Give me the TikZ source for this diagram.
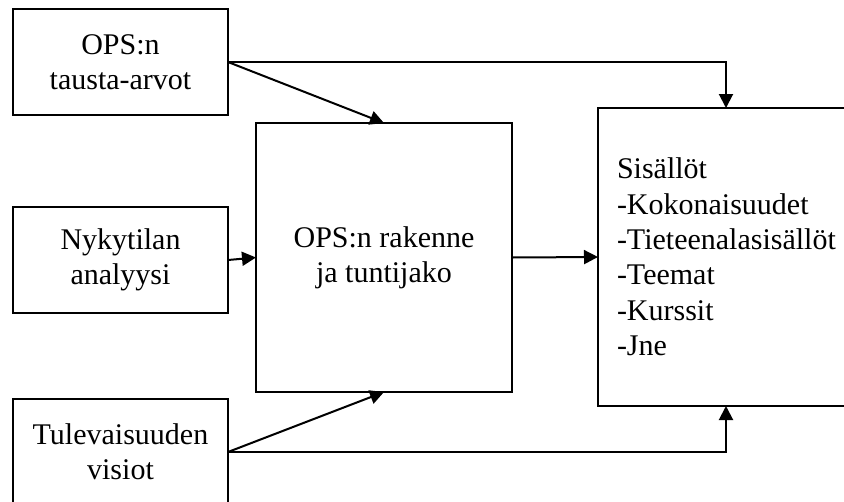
\documentclass[tikz,border=0pt]{standalone}
\usepackage{fontspec}
\setmainfont{Liberation Serif}
\usetikzlibrary{arrows.meta,positioning,calc}

\tikzset{
    box/.style={draw, line width=1pt, inner sep=0pt, outer sep=0pt, align=center,
        minimum width=161.25pt, minimum height=79.5pt},
    flow/.style={line width=1.5pt, -{Triangle[length=10.5pt,width=10.5pt]}}
}

\begin{document}
\begin{tikzpicture}[x=0.75pt, y=-0.75pt, font=\fontsize{22.5}{26.5}\selectfont]
    \useasboundingbox (0,0) rectangle (844,501);
    \clip (0,0) rectangle (844,501);

    \node[box] (tausta) at (120.5,62) {OPS:n\\tausta-arvot};
    \node[box] (nyky) at (120.5,260) {Nykytilan\\analyysi};
    \node[box] (visiot) at (120.5,452) {Tulevaisuuden\\visiot};

    \node[box, minimum width=192pt, minimum height=201.75pt] (rakenne) at (384,257.5)
        {OPS:n rakenne\\ja tuntijako};
    \node[box, minimum width=192pt, minimum height=223.5pt, inner xsep=14.25pt,
        text width=163.5pt, align=left] (sisallot) at (726,257)
        {Sisällöt\\-Kokonaisuudet\\\mbox{-Tieteenalasisällöt}\\-Teemat\\-Kurssit\\-Jne};

    \draw[flow] (tausta.east) -- (rakenne.north);
    \draw[flow] (tausta.east) -| (sisallot.north);
    \draw[flow] (nyky.east) -- (rakenne.west);
    \draw[flow] (rakenne.east) -- (sisallot.west);
    \draw[flow] (visiot.east) -- (rakenne.south);
    \draw[flow] (visiot.east) -| (sisallot.south);
\end{tikzpicture}
\end{document}
